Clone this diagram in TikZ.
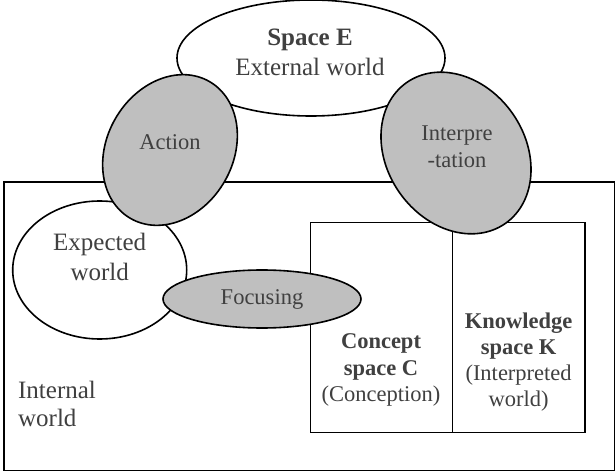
\documentclass[tikz,border=0pt]{standalone}
\usepackage{fontspec}
\setmainfont{Liberation Serif}
\usetikzlibrary{shapes.geometric}

\begin{document}
\begin{tikzpicture}[x=1pt, y=1pt, line width=1.6pt,
    area/.style={draw, fill=white, inner sep=0pt, outer sep=0pt},
    oval/.style={area, ellipse},
    grayoval/.style={oval, fill=black!25},
    txt/.style={text=black!75, align=center, font=\fontsize{22.5}{26.7}\selectfont},
    bigtxt/.style={txt, font=\fontsize{25}{30}\selectfont}]

    \useasboundingbox (0,0) rectangle (616,472);

    % Flaechen
    \node[area, minimum width=610.7, minimum height=288.3] (internal) at (309.3,145.8) {};
    \node[oval, minimum width=268, minimum height=116] (spaceE) at (311,414) {};
    \node[oval, minimum width=174, minimum height=138] (expected) at (99.7,202) {};
    \node[area, minimum width=142.2, minimum height=209.8] (concept) at (381.4,144.6) {};
    \node[area, minimum width=132.2, minimum height=209.8] (knowledge) at (518.6,144.6) {};
    \node[grayoval, minimum width=126, minimum height=158, rotate=-30] (action) at (170,322) {};
    \node[grayoval, minimum width=138, minimum height=172, rotate=35] (interp) at (456,319) {};
    \node[grayoval, minimum width=198, minimum height=58] (focusing) at (262,173) {};

    % Beschriftungen
    \node[bigtxt] (spaceEtxt) at ([xshift=-1, yshift=6]spaceE.center) {\textbf{Space E}\\External world};
    \node[bigtxt] (expectedtxt) at ([yshift=13]expected.center) {Expected\\world};
    \node[txt] (actiontxt) at ([yshift=8]action.center) {Action};
    \node[txt] (interptxt) at ([xshift=1, yshift=6]interp.center) {Interpre\\-tation};
    \node[txt] (focusingtxt) at (focusing.center) {Focusing};
    \node[txt] (concepttxt) at (381,102) {\textbf{Concept}\\\textbf{space C}\\(Conception)};
    \node[txt, font=\fontsize{22.5}{26}\selectfont] (knowledgetxt) at (518.6,109.5) {\textbf{Knowledge}\\\textbf{space K}\\(Interpreted\\world)};
    \node[bigtxt, anchor=west, align=left, font=\fontsize{25}{28}\selectfont] (internaltxt) at (14,68) {Internal\\world};

\end{tikzpicture}
\end{document}
